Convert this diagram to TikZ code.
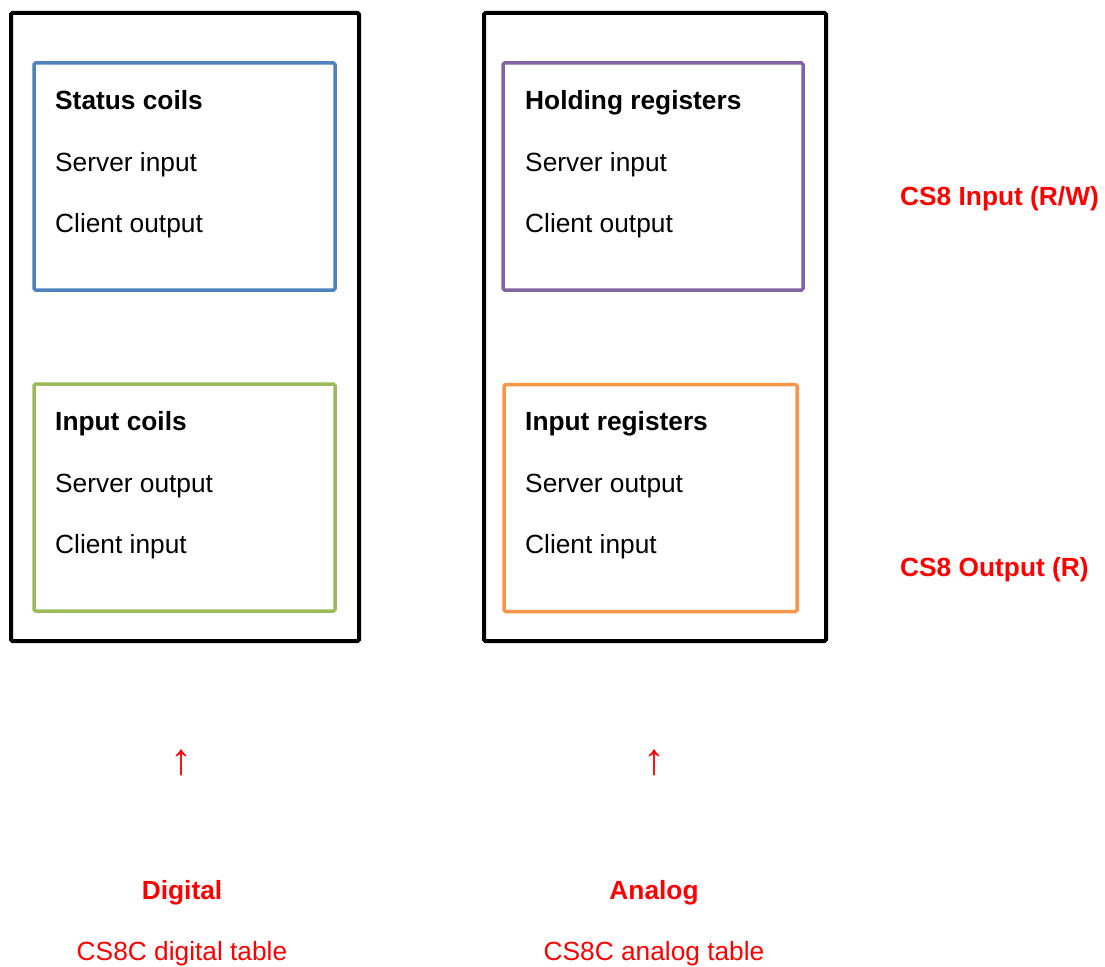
\documentclass[tikz,border=0pt]{standalone}
\usepackage{fontspec}
\setmainfont{Liberation Sans}
\usetikzlibrary{positioning}
\definecolor{coilblue}{HTML}{4F81BD}
\definecolor{coilgreen}{HTML}{9BBB59}
\definecolor{regpurple}{HTML}{8064A2}
\definecolor{regorange}{HTML}{F79646}
\newcommand{\bigsize}{\fontsize{26.3}{31}\selectfont}

\begin{document}
\begin{tikzpicture}[
        x=1pt, y=-1pt,
        table/.style={rectangle, draw=black, line width=4pt, rounded corners=1.5pt, minimum height=628pt, inner sep=0pt},
        area/.style={rectangle, draw=#1, line width=3.5pt, rounded corners=1.5pt, minimum height=227pt, inner sep=0pt},
        head/.style={anchor=base west, inner sep=0pt, font=\bigsize\bfseries},
        item/.style={anchor=base west, inner sep=0pt, font=\bigsize},
        cs/.style={anchor=base west, inner sep=0pt, text=red, font=\bigsize\bfseries},
        kind/.style={anchor=base, inner sep=0pt, text=red, font=\bigsize\bfseries},
        caption/.style={anchor=base, inner sep=0pt, text=red, font=\bigsize},
        uparrow/.style={inner sep=0pt, text=red, font=\fontsize{44}{50}\selectfont}
    ]
    \useasboundingbox (0,0) rectangle (1105,966);

    % Tables
    \node[table, minimum width=348pt] (dig) at (185,327) {};
    \node[table, minimum width=342pt] (ana) at (655,327) {};

    % Areas
    \node[area=coilblue, minimum width=301pt] (status) at (184.5,176.5) {};
    \node[area=coilgreen, minimum width=301pt] (incoil) at (184.5,497.5) {};
    \node[area=regpurple, minimum width=300pt] (holding) at (653,176.5) {};
    \node[area=regorange, minimum width=293pt] (inreg) at (650.5,498) {};

    % Area texts
    \node[head] (statusT) at (55,109) {Status coils};
    \node[item] (statusA) at (55,171) {Server input};
    \node[item] (statusB) at (55,232) {Client output};

    \node[head] (incoilT) at (55,430) {Input coils};
    \node[item] (incoilA) at (55,492) {Server output};
    \node[item] (incoilB) at (55,553) {Client input};

    \node[head] (holdingT) at (525,109) {Holding registers};
    \node[item] (holdingA) at (525,171) {Server input};
    \node[item] (holdingB) at (525,232) {Client output};

    \node[head] (inregT) at (525,430) {Input registers};
    \node[item] (inregA) at (525,492) {Server output};
    \node[item] (inregB) at (525,553) {Client input};

    % CS8 side
    \node[cs] (csin) at (900,205) {CS8 Input (R/W)};
    \node[cs] (csout) at (900,576) {CS8 Output (R)};

    % Bottom labels
    \node[uparrow] (digup) at (181,763) {↑};
    \node[uparrow] (anaup) at (654,763) {↑};
    \node[kind] (digK) at (182,899) {Digital};
    \node[caption] (digC) at (182,960) {CS8C digital table};
    \node[kind] (anaK) at (654,899) {Analog};
    \node[caption] (anaC) at (654,960) {CS8C analog table};

\end{tikzpicture}
\end{document}
